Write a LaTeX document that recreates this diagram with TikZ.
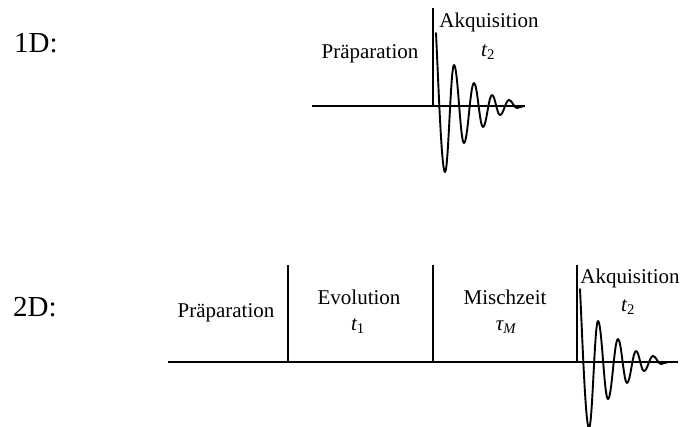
\documentclass[tikz,border=0pt]{standalone}
\usepackage{fontspec}
\setmainfont{Liberation Serif}
\begin{document}
\begin{tikzpicture}[x=1pt,y=-1pt,
  axis/.style={line width=1.9pt},
  fidline/.style={line width=1.9pt,line join=round,line cap=round},
  lbl/.style={inner sep=0pt,anchor=base,font=\fontsize{21}{25}\selectfont},
  big/.style={inner sep=0pt,anchor=base west,font=\fontsize{29}{34}\selectfont}]
\useasboundingbox (0,0) rectangle (684,426);
\newcommand\fidpath{%
  (3,-73) .. controls (5.5,-20) and (8.6,66) .. (12,66)
  .. controls (15.4,66) and (17.6,-41) .. (21,-41)
  .. controls (24.8,-41) and (27.2,37) .. (31,37)
  .. controls (34.8,37) and (37.2,-23) .. (41,-23)
  .. controls (44.4,-23) and (46.6,21) .. (50,21)
  .. controls (53.4,21) and (55.6,-11) .. (59,-11)
  .. controls (62,-11) and (64,9) .. (67,9)
  .. controls (70.4,9) and (72.6,-6) .. (76,-6)
  .. controls (79,-6) and (81,2) .. (84,2)
  .. controls (87,2) and (88,0) .. (91,0)}
% ---------- 1D ----------
\node[big] (l1d) at (14,52) {1D:};
\coordinate (a1s) at (312,106);
\coordinate (a1e) at (525,106);
\coordinate (v1t) at (433,8);
\coordinate (v1b) at (433,106);
\draw[axis] (a1s) -- (a1e);
\draw[axis] (v1t) -- (v1b);
\begin{scope}[shift={(433,106)}]
  \draw[fidline] \fidpath;
\end{scope}
\node[lbl] (prep1) at (370,58) {Präparation};
\node[lbl] (akq1) at (489,27) {Akquisition};
\node[lbl] (t21) at (488,56) {{\itshape t}\textsubscript{2}};
% ---------- 2D ----------
\node[big] (l2d) at (13,316) {2D:};
\coordinate (a2s) at (168,362);
\coordinate (a2e) at (678,362);
\draw[axis] (a2s) -- (a2e);
\coordinate (v2at) at (288,265); \coordinate (v2ab) at (288,362);
\coordinate (v2bt) at (433,265); \coordinate (v2bb) at (433,362);
\coordinate (v2ct) at (577,265); \coordinate (v2cb) at (577,362);
\draw[axis] (v2at) -- (v2ab);
\draw[axis] (v2bt) -- (v2bb);
\draw[axis] (v2ct) -- (v2cb);
\begin{scope}[shift={(577,362)}]
  \draw[fidline] \fidpath;
\end{scope}
\node[lbl] (prep2) at (226,317) {Präparation};
\node[lbl] (evo) at (359,304) {Evolution};
\node[lbl] (t1) at (358,330) {{\itshape t}\textsubscript{1}};
\node[lbl] (misch) at (505,304) {Mischzeit};
\node[lbl] (tau) at (506,330) {{\itshape τ\textsubscript{M}}};
\node[lbl] (akq2) at (630,283) {Akquisition};
\node[lbl] (t22) at (628,311) {{\itshape t}\textsubscript{2}};
\end{tikzpicture}
\end{document}
